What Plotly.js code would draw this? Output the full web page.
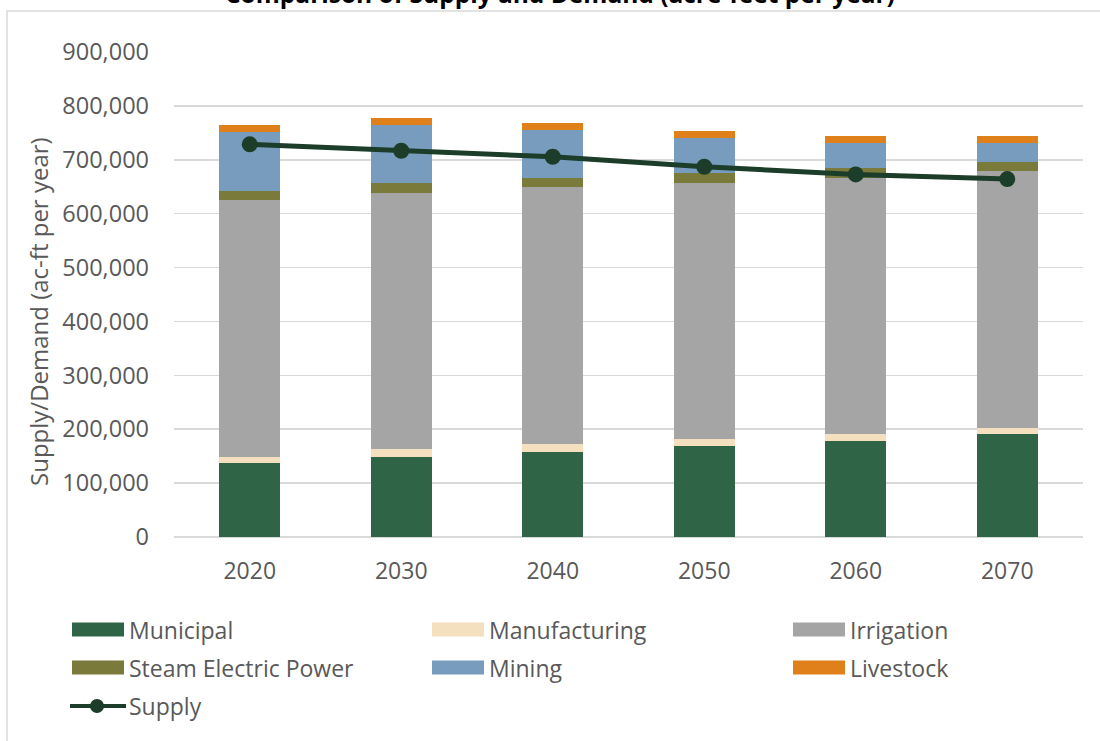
<!DOCTYPE html>
<html>
<head>
<meta charset="utf-8">
<script src="https://cdn.plot.ly/plotly-3.0.1.min.js"></script>
<style>
  html, body { margin: 0; padding: 0; background: #ffffff; }
  #chart { width: 1100px; height: 741px; }
</style>
</head>
<body>
<div id="chart"></div>
<script>
// ---- data ----
const years = ['2020', '2030', '2040', '2050', '2060', '2070'];
const municipal     = [137300, 148400, 157700, 168800, 178100, 191100];
const manufacturing = [11100, 14900, 14800, 13000, 13000, 11100];
const irrigation    = [476800, 474900, 476100, 475000, 474900, 476800];
const steamElectric = [16700, 18600, 17400, 18500, 18600, 16700];
const mining        = [109500, 107000, 89100, 65000, 46400, 35300];
const livestock     = [13000, 13600, 13000, 12900, 13000, 13000];
const supply        = [728600, 716700, 705600, 687100, 672900, 664200];

const seriesNames = ['Municipal', 'Manufacturing', 'Irrigation', 'Steam Electric Power', 'Mining', 'Livestock'];
const supplyName = 'Supply';
const yTickVals = [0, 100000, 200000, 300000, 400000, 500000, 600000, 700000, 800000, 900000];
const yTickText = ['0', '100,000', '200,000', '300,000', '400,000', '500,000', '600,000', '700,000', '800,000', '900,000'];
const chartTitle = 'Comparison of Supply and Demand (acre-feet per year)';
const yTitle = 'Supply/Demand (ac-ft per year)';

// ---- styles ----
const colors = ['#306446', '#f4e0bf', '#a5a5a5', '#7a7a3a', '#789cbe', '#e0801b'];
const supplyColor = '#1c3d29';
const textColor = '#595959';
const gridColor = '#d9d9d9';
const FONT = 'Open Sans, sans-serif';

// plot area in pixels
const L = 174, R = 1083, T = 52, B = 537;
const W = R - L, H = B - T;
const px = x => (x - L) / W;
const py = y => (B - y) / H;

const seriesData = [municipal, manufacturing, irrigation, steamElectric, mining, livestock];
const traces = seriesData.map((vals, i) => ({
  type: 'bar',
  name: seriesNames[i],
  x: years,
  y: vals,
  marker: { color: colors[i], line: { width: 0 } },
  hoverinfo: 'skip'
}));
traces.push({
  type: 'scatter',
  mode: 'lines+markers',
  name: supplyName,
  x: years,
  y: supply,
  line: { color: supplyColor, width: 5 },
  marker: { color: supplyColor, size: 16 },
  hoverinfo: 'skip'
});

// manual legend (3 columns)
const legCols = [72, 432, 793];
const legRows = [629.5, 667.5, 706];
const shapes = [];
const annotations = [];
const legendEntries = seriesNames.concat([supplyName]);
legendEntries.forEach((name, i) => {
  const cx = legCols[i % 3];
  const cy = legRows[Math.floor(i / 3)];
  if (i < seriesNames.length) {
    shapes.push({
      type: 'rect', xref: 'paper', yref: 'paper',
      x0: px(cx), x1: px(cx + 52), y0: py(cy - 7), y1: py(cy + 7),
      fillcolor: colors[i], line: { width: 0 }
    });
  } else {
    shapes.push({
      type: 'line', xref: 'paper', yref: 'paper',
      x0: px(cx - 2), x1: px(cx + 54), y0: py(cy), y1: py(cy),
      line: { color: supplyColor, width: 4 }
    });
    shapes.push({
      type: 'circle', xref: 'paper', yref: 'paper',
      x0: px(cx + 18), x1: px(cx + 32), y0: py(cy + 7), y1: py(cy - 7),
      fillcolor: supplyColor, line: { width: 0 }
    });
  }
  annotations.push({
    xref: 'paper', yref: 'paper', x: px(cx + 55), y: py(cy),
    xanchor: 'left', yanchor: 'middle', showarrow: false,
    text: name, font: { family: FONT, size: 23, color: textColor }
  });
});

// chart border (outer frame)
shapes.push({
  type: 'rect', xref: 'paper', yref: 'paper',
  x0: px(7), x1: px(1120), y0: py(11), y1: py(780),
  line: { color: gridColor, width: 1.5 }, fillcolor: 'rgba(0,0,0,0)', layer: 'below'
});

// title (clipped at top as in reference)
annotations.push({
  xref: 'paper', yref: 'paper', x: px(560), y: py(12),
  xanchor: 'center', yanchor: 'bottom', showarrow: false,
  text: '<b>' + chartTitle + '</b>',
  font: { family: FONT, size: 24.5, color: '#000000' }
});
// y-axis title
annotations.push({
  xref: 'paper', yref: 'paper', x: px(38), y: py(312),
  xanchor: 'center', yanchor: 'middle', showarrow: false, textangle: -90,
  text: yTitle, font: { family: FONT, size: 24, color: textColor }
});

const layout = {
  width: 1100, height: 741,
  margin: { l: L, r: 1100 - R, t: T, b: 741 - B, pad: 0 },
  paper_bgcolor: '#ffffff', plot_bgcolor: '#ffffff',
  barmode: 'stack', bargap: 0.6,
  showlegend: false,
  font: { family: FONT, color: textColor },
  xaxis: {
    type: 'category',
    showgrid: false, showline: false, zeroline: false,
    ticks: '', ticklabelstandoff: 18,
    tickfont: { family: FONT, size: 23, color: textColor },
    fixedrange: true
  },
  yaxis: {
    range: [0, 900000],
    tickvals: yTickVals, ticktext: yTickText,
    showgrid: true, gridcolor: gridColor, gridwidth: 1.5,
    zeroline: true, zerolinecolor: gridColor, zerolinewidth: 1.5,
    showline: false, ticks: '', ticklabelstandoff: 24,
    tickfont: { family: FONT, size: 23.5, color: textColor },
    fixedrange: true
  },
  shapes: shapes,
  annotations: annotations
};

Plotly.newPlot('chart', traces, layout, { displayModeBar: false, staticPlot: true });
</script>
</body>
</html>
